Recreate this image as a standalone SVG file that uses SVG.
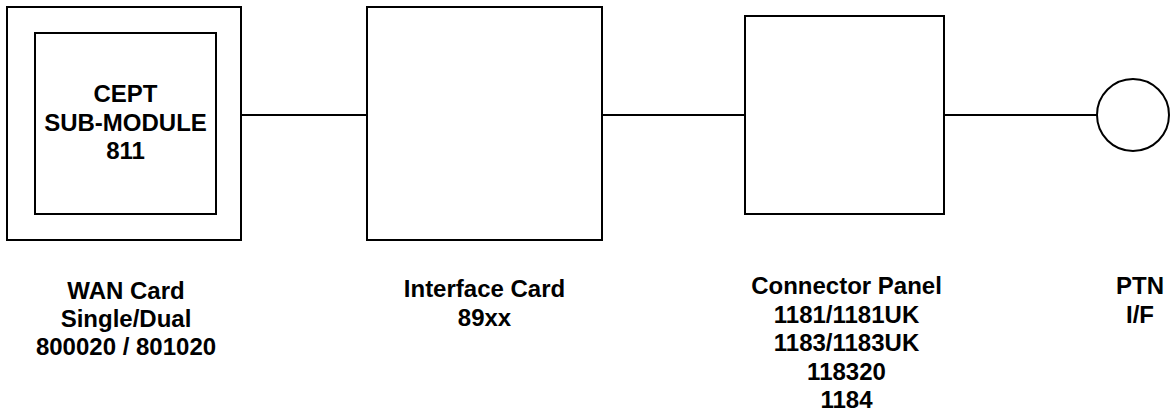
<svg xmlns="http://www.w3.org/2000/svg" width="1170" height="413" viewBox="0 0 1170 413">
<style>
.box{fill:#fff;stroke:#000;stroke-width:2}
.ln{stroke:#000;stroke-width:2;fill:none}
.t{font-family:"Liberation Sans",Arial,sans-serif;font-weight:bold;font-size:24px;text-anchor:middle;fill:#000}
</style>
<rect width="1170" height="413" fill="#fff"/>
<g id="connectors">
<line class="ln" x1="241" y1="115" x2="367" y2="115"/>
<line class="ln" x1="602" y1="115" x2="745" y2="115"/>
<line class="ln" x1="944" y1="115" x2="1097" y2="115"/>
</g>
<g id="wan-card">
<rect class="box" x="7" y="7" width="234" height="233"/>
<rect class="box" x="35" y="33" width="181" height="181"/>
<text class="t" x="125.5" y="102">CEPT</text>
<text class="t" x="125.5" y="130.5">SUB-MODULE</text>
<text class="t" x="125.5" y="159">811</text>
<text class="t" x="126" y="298.5">WAN Card</text>
<text class="t" x="126" y="327">Single/Dual</text>
<text class="t" x="126" y="355">800020 / 801020</text>
</g>
<g id="interface-card">
<rect class="box" x="367" y="7" width="235" height="233"/>
<text class="t" x="484.5" y="297">Interface Card</text>
<text class="t" x="484.5" y="325.5">89xx</text>
</g>
<g id="connector-panel">
<rect class="box" x="745" y="16" width="199" height="198"/>
<text class="t" x="846.5" y="294">Connector Panel</text>
<text class="t" x="846.5" y="322.5">1181/1181UK</text>
<text class="t" x="846.5" y="351">1183/1183UK</text>
<text class="t" x="846.5" y="379.5">118320</text>
<text class="t" x="846.5" y="408">1184</text>
</g>
<g id="ptn-if">
<circle class="box" cx="1133" cy="115" r="36"/>
<text class="t" x="1140" y="294">PTN</text>
<text class="t" x="1140" y="322.5">I/F</text>
</g>
</svg>
